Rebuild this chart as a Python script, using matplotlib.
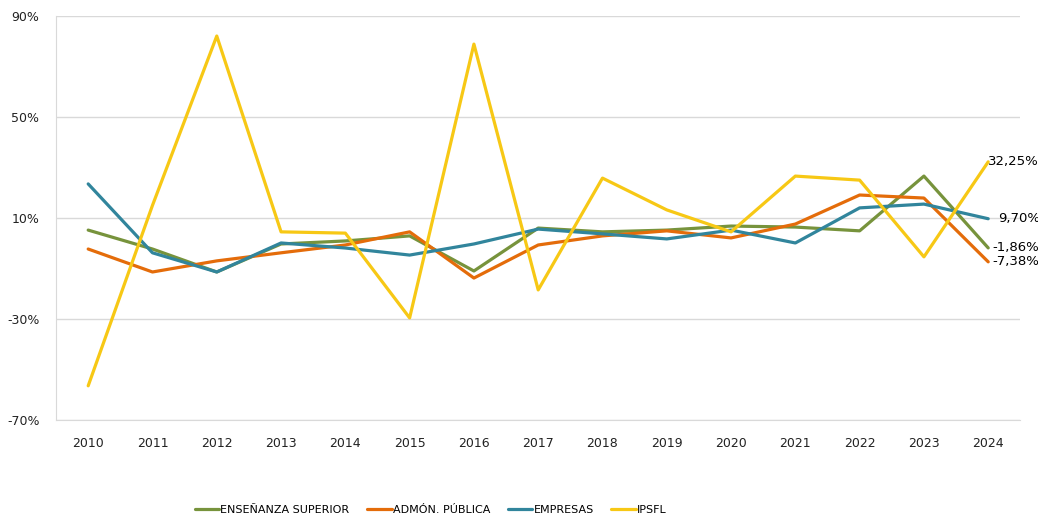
import matplotlib
matplotlib.use('Agg')
import matplotlib.pyplot as plt
from matplotlib.ticker import FixedLocator, FuncFormatter

plt.rcParams['font.family'] = ['DejaVu Sans']

years = list(range(2010, 2025))
ens_sup = [5.2, -2.3, -11.4, -0.3, 0.9, 2.9, -11.0, 6.0, 4.5, 5.2, 6.8, 6.4, 4.9, 26.6, -1.86]
admon = [-2.3, -11.4, -7.0, -3.8, -0.7, 4.5, -13.8, -0.7, 2.9, 4.9, 2.1, 7.6, 19.1, 17.9, -7.38]
empresas = [23.5, -3.8, -11.4, 0.1, -1.9, -4.7, -0.3, 5.6, 3.7, 1.7, 5.2, 0.1, 14.0, 15.5, 9.70]
ipsfl = [-56.5, 15.0, 82.1, 4.5, 4.0, -29.6, 78.9, -18.5, 25.8, 13.2, 4.5, 26.6, 25.0, -5.4, 32.25]

series = [
    ('ENSEÑANZA SUPERIOR', ens_sup, '#77933C'),
    ('ADMÓN. PÚBLICA', admon, '#E46C0A'),
    ('EMPRESAS', empresas, '#31859C'),
    ('IPSFL', ipsfl, '#F7C815'),
]
yticks = [-70, -30, 10, 50, 90]

fig = plt.figure(figsize=(10.38, 5.19), dpi=100)
ax = fig.add_axes([0.054, 0.191, 0.929, 0.778])

x = list(range(len(years)))
for name, vals, col in series:
    ax.plot(x, vals, color=col, lw=2.3, label=name, solid_capstyle='round', solid_joinstyle='round')

# etiquetas del ultimo valor
fmt = lambda v: ('%.2f%%' % v).replace('.', ',')
ax.annotate(fmt(ipsfl[-1]), (x[-1], ipsfl[-1]), xytext=(0, 0), textcoords='offset points',
            ha='left', va='center', fontsize=9.5)
ax.annotate(fmt(empresas[-1]), (x[-1], empresas[-1]), xytext=(7, 0), textcoords='offset points',
            ha='left', va='center', fontsize=9.5)
ax.annotate(fmt(ens_sup[-1]), (x[-1], ens_sup[-1]), xytext=(3, 0), textcoords='offset points',
            ha='left', va='center', fontsize=9.5)
ax.annotate(fmt(admon[-1]), (x[-1], admon[-1]), xytext=(3, 0), textcoords='offset points',
            ha='left', va='center', fontsize=9.5)

ax.set_xlim(-0.5, len(years) - 0.5)
ax.set_ylim(-70, 90)
ax.yaxis.set_major_locator(FixedLocator(yticks))
ax.yaxis.set_major_formatter(FuncFormatter(lambda v, p: '%d%%' % v))
ax.set_xticks(x)
ax.set_xticklabels([str(y) for y in years])
ax.tick_params(axis='both', length=0, labelsize=9, colors='#222222')
ax.tick_params(axis='x', pad=12)
ax.tick_params(axis='y', pad=12)
ax.grid(axis='y', color='#D9D9D9', lw=1)
ax.set_axisbelow(True)
for s in ['top', 'right']:
    ax.spines[s].set_visible(False)
for s in ['left', 'bottom']:
    ax.spines[s].set_color('#D9D9D9')

fig.legend(loc='center', bbox_to_anchor=(0.415, 0.018), ncol=4, frameon=False,
           fontsize=8, handlelength=2.2, columnspacing=1.6, handletextpad=0.1)

plt.savefig('out.png', dpi=100)
plt.close()
